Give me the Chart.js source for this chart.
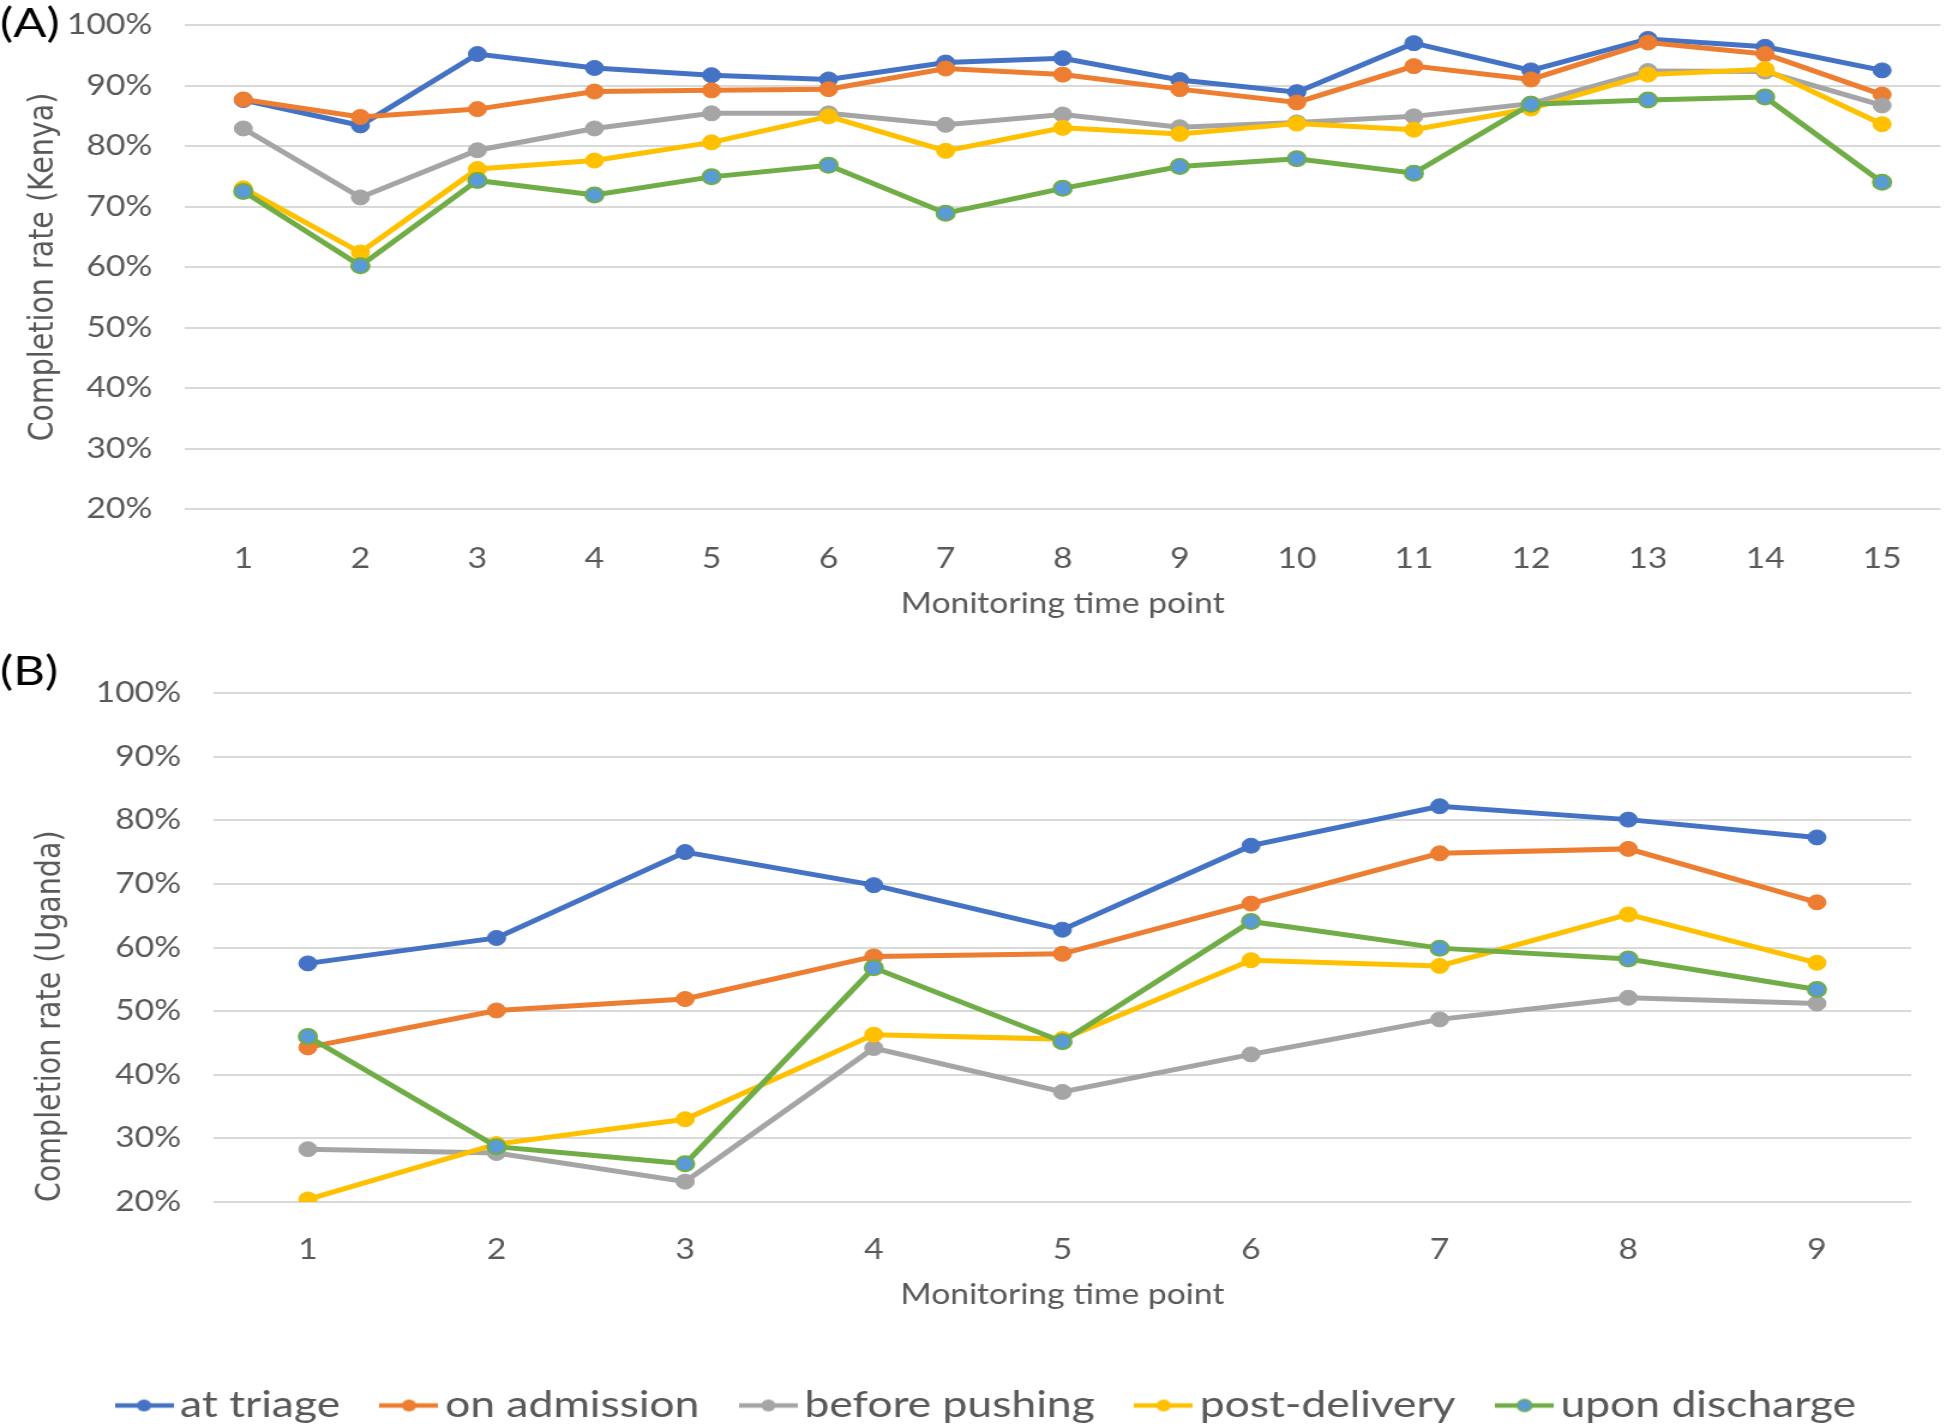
<!DOCTYPE html>
<html><head><meta charset="utf-8">
<script src="https://cdn.jsdelivr.net/npm/chart.js@4.4.1/dist/chart.umd.min.js"></script>
<style>
html,body{margin:0;padding:0;background:#fff;}
#wrap{position:relative;width:1952px;height:1428px;overflow:hidden;background:#fff;}
canvas{position:absolute;left:0;}
</style></head><body>
<div id="wrap">
<canvas id="cA" width="1627" height="640" style="top:0px;width:1952px;height:640px;"></canvas>
<canvas id="cB" width="1627" height="794" style="top:640px;width:1952px;height:794px;"></canvas>
</div>
<script>
// ---- data ----
const seriesNames = ['at triage', 'on admission', 'before pushing', 'post-delivery', 'upon discharge'];
const kenyaLabels = ['1','2','3','4','5','6','7','8','9','10','11','12','13','14','15'];
const ugandaLabels = ['1','2','3','4','5','6','7','8','9'];
const yTickValues = [20, 30, 40, 50, 60, 70, 80, 90, 100];

const kenyaTriage    = [87.6, 83.4, 95.2, 92.9, 91.7, 91.0, 93.8, 94.5, 90.9, 88.9, 97.0, 92.5, 97.7, 96.4, 92.5];
const kenyaAdmission = [87.7, 84.8, 86.1, 89.0, 89.2, 89.4, 92.8, 91.8, 89.4, 87.2, 93.2, 91.0, 97.1, 95.2, 88.5];
const kenyaPushing   = [82.9, 71.5, 79.3, 82.9, 85.4, 85.4, 83.5, 85.2, 83.1, 83.9, 84.9, 87.0, 92.4, 92.3, 86.7];
const kenyaPost      = [73.0, 62.4, 76.2, 77.6, 80.6, 84.9, 79.2, 83.0, 82.0, 83.7, 82.7, 86.2, 91.8, 92.7, 83.6];
const kenyaDischarge = [72.5, 60.2, 74.3, 71.9, 74.9, 76.8, 68.9, 73.0, 76.6, 77.9, 75.5, 86.9, 87.6, 88.1, 74.0];

const ugTriage    = [57.5, 61.5, 75.0, 69.8, 62.8, 76.0, 82.2, 80.1, 77.3];
const ugAdmission = [44.3, 50.1, 51.9, 58.6, 59.0, 66.9, 74.8, 75.5, 67.1];
const ugPushing   = [28.3, 27.7, 23.2, 44.2, 37.3, 43.2, 48.7, 52.1, 51.2];
const ugPost      = [20.4, 29.1, 33.0, 46.3, 45.6, 58.0, 57.1, 65.2, 57.6];
const ugDischarge = [46.0, 28.7, 26.0, 56.8, 45.2, 64.1, 59.9, 58.2, 53.4];

// ---- styles ----
const lineColors  = ['#4472C4', '#ED7D31', '#A5A5A5', '#FFC000', '#70AD47'];
const markerFills = ['#4472C4', '#ED7D31', '#A5A5A5', '#FFC000', '#5B9BD5'];
const textColor = '#595959';
const gridColor = '#D9D9D9';

function makeDatasets(seriesArrays) {
  return seriesArrays.map((arr, i) => ({
    label: seriesNames[i],
    data: arr,
    borderColor: lineColors[i],
    backgroundColor: markerFills[i],
    pointBackgroundColor: markerFills[i],
    pointBorderColor: lineColors[i],
    pointBorderWidth: i === 4 ? 2 : 1,
    pointRadius: 7.5,
    borderWidth: 5,
    tension: 0,
    order: 5 - i
  }));
}

function legendMarker(i) {
  const c = document.createElement('canvas');
  c.width = 49; c.height = 16;
  const g = c.getContext('2d');
  g.strokeStyle = lineColors[i]; g.lineWidth = 4.5;
  g.beginPath(); g.moveTo(0, 8); g.lineTo(49, 8); g.stroke();
  g.beginPath(); g.arc(24.5, 8, 6, 0, 2 * Math.PI);
  g.fillStyle = markerFills[i]; g.fill();
  if (i === 4) { g.lineWidth = 1.5; g.strokeStyle = lineColors[i]; g.stroke(); }
  return c;
}

const panelLabelPlugin = {
  id: 'panelLabel',
  afterDraw(chart, args, opts) {
    const ctx = chart.ctx;
    ctx.save();
    ctx.font = '41px Lato';
    ctx.fillStyle = '#000';
    ctx.textBaseline = 'middle';
    ctx.textAlign = 'left';
    ctx.fillText(opts.text, opts.x, opts.y);
    ctx.restore();
  }
};

function makeOptions(cfg) {
  return {
    responsive: false,
    devicePixelRatio: 1,
    animation: false,
    events: [],
    layout: { padding: cfg.padding },
    plugins: {
      legend: cfg.legend,
      tooltip: { enabled: false },
      panelLabel: cfg.panel
    },
    scales: {
      x: {
        type: 'category',
        offset: true,
        grid: { display: false },
        border: { display: false },
        ticks: { color: textColor, font: { family: 'Lato', size: 28 }, padding: cfg.xTickPad, maxRotation: 0, autoSkip: false },
        title: { display: true, text: 'Monitoring time point', color: textColor,
                 font: { family: 'Lato', size: 28 }, padding: { top: 0, bottom: cfg.xTitlePad } },
        afterFit(scale) { scale.height = cfg.xHeight; }
      },
      y: {
        min: 20, max: 100,
        afterBuildTicks(scale) { scale.ticks = yTickValues.map(v => ({ value: v })); },
        grid: { color: gridColor, lineWidth: 2, drawTicks: false },
        border: { display: false },
        ticks: { color: textColor, font: { family: 'Lato', size: 28 }, padding: 27,
                 callback: v => v + '%' },
        title: { display: true, text: cfg.yTitle, color: textColor, align: cfg.yAlign,
                 font: { family: 'DejaVu Sans', size: 28.5 }, padding: { top: cfg.yTitlePad, bottom: 0 } },
        afterFit(scale) { scale.width = cfg.yWidth; scale.paddingTop = 0; scale.paddingBottom = 0; }
      }
    }
  };
}

function draw() {
  new Chart(document.getElementById('cA'), {
    type: 'line',
    data: { labels: kenyaLabels,
            datasets: makeDatasets([kenyaTriage, kenyaAdmission, kenyaPushing, kenyaPost, kenyaDischarge]) },
    options: makeOptions({
      padding: { left: 0, right: 5, top: 25, bottom: 0 },
      legend: { display: false },
      panel: { text: '(A)', x: 0, y: 24 },
      xTickPad: 25, xTitlePad: 19, xHeight: 131,
      yTitle: 'Completion rate (Kenya)', yAlign: 'center', yTitlePad: 19, yWidth: 154
    }),
    plugins: [panelLabelPlugin]
  });

  const markers = seriesNames.map((n, i) => legendMarker(i));
  new Chart(document.getElementById('cB'), {
    type: 'line',
    data: { labels: ugandaLabels,
            datasets: makeDatasets([ugTriage, ugAdmission, ugPushing, ugPost, ugDischarge]) },
    options: makeOptions({
      padding: { left: 0, right: 34, top: 53, bottom: 0 },
      legend: {
        display: true, position: 'bottom', align: 'end',
        labels: {
          usePointStyle: true, pointStyleWidth: 23, padding: 46,
          color: textColor, font: { family: 'Lato', size: 37 },
          generateLabels(chart) {
            return chart.data.datasets.map((ds, i) => ({
              text: ds.label, pointStyle: markers[i], fillStyle: markerFills[i],
              strokeStyle: lineColors[i], lineWidth: 0, hidden: false,
              datasetIndex: i, fontColor: textColor
            }));
          }
        }
      },
      panel: { text: '(B)', x: 0, y: 32 },
      xTickPad: 23, xTitlePad: 29, xHeight: 139,
      yTitle: 'Completion rate (Uganda)', yAlign: 'start', yTitlePad: 25, yWidth: 178
    }),
    plugins: [panelLabelPlugin]
  });
}

if (document.fonts && document.fonts.load) {
  Promise.all([
    document.fonts.load('28px Lato'), document.fonts.load('37px Lato'),
    document.fonts.load('28px "DejaVu Sans"')
  ]).then(draw, draw);
} else { draw(); }
</script>
</body></html>
